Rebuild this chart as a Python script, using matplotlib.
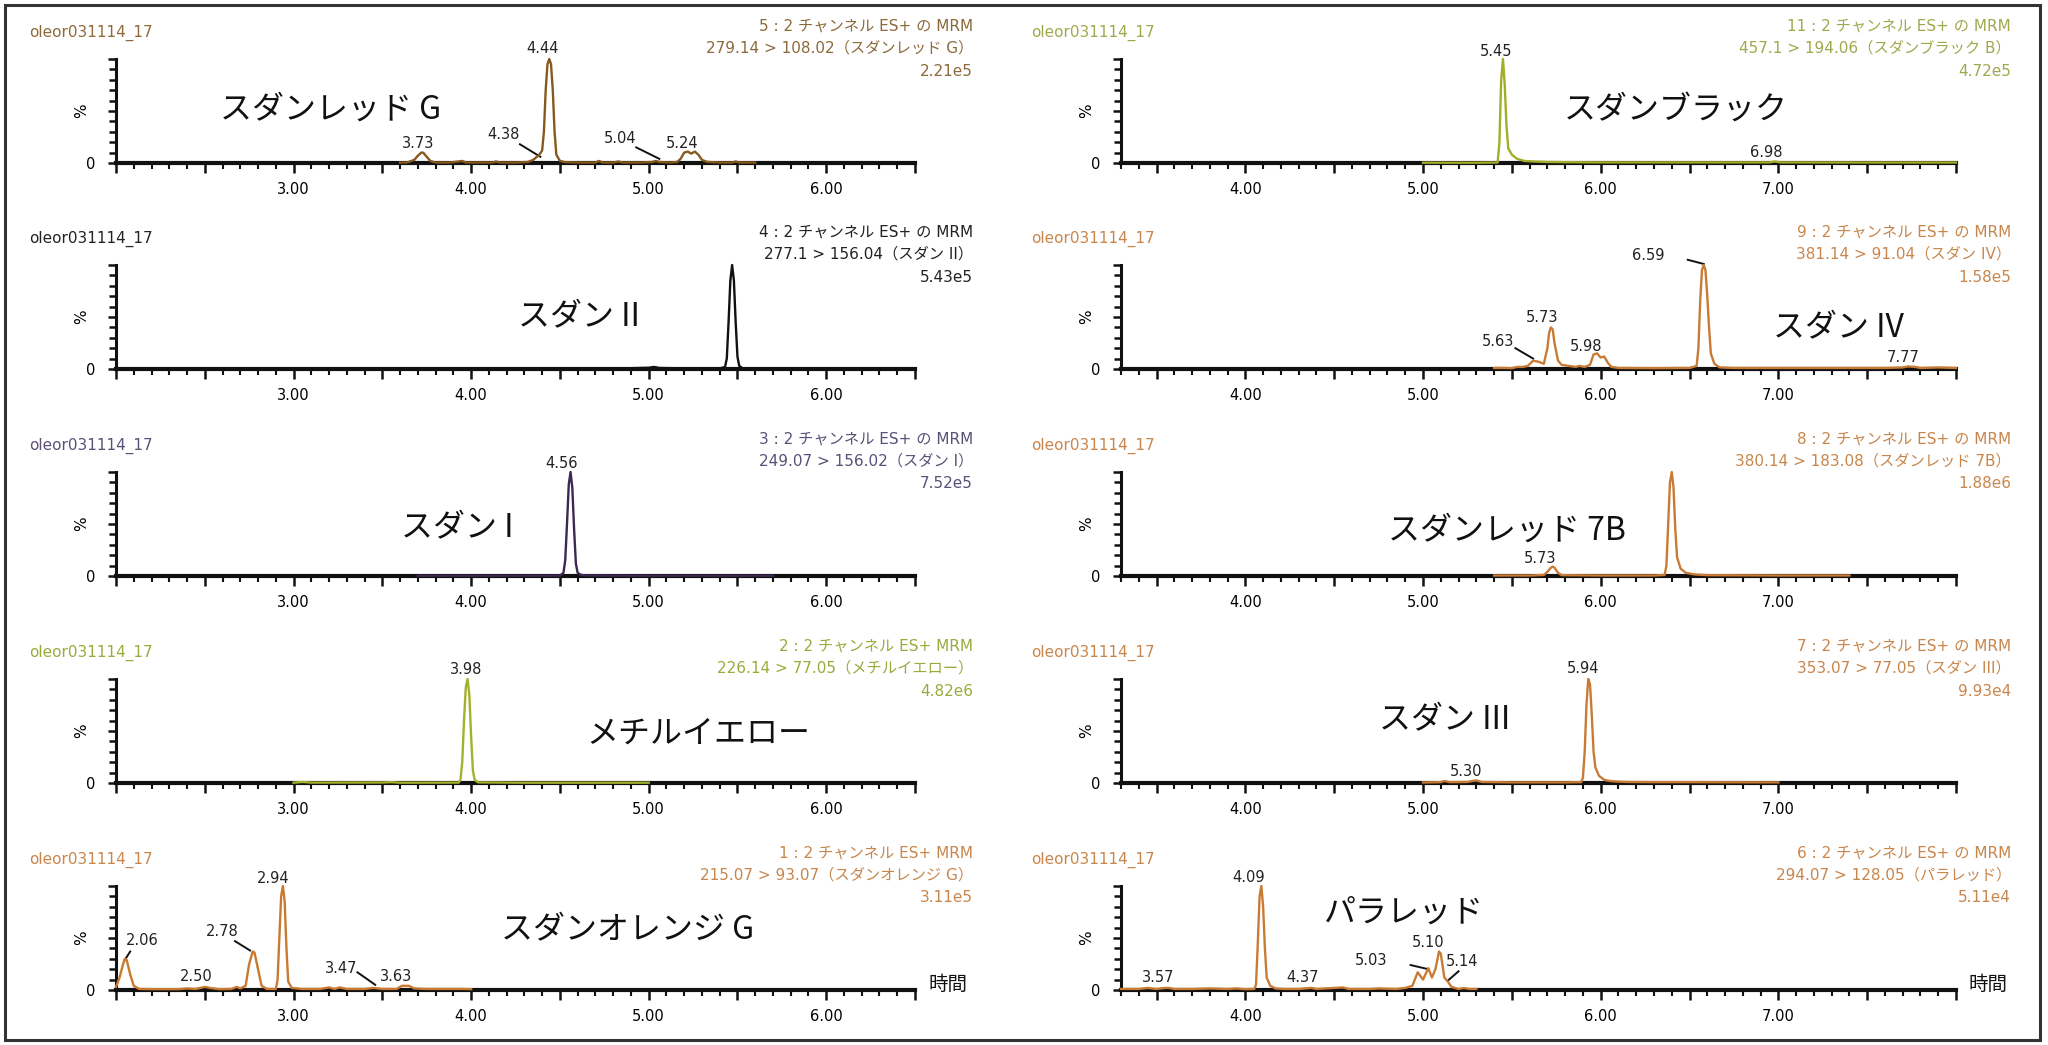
import numpy as np
import matplotlib
matplotlib.use('Agg')
import matplotlib.pyplot as plt
from matplotlib.ticker import MultipleLocator, FuncFormatter

plt.rcParams['font.family'] = ['DejaVu Sans', 'Noto Sans CJK JP']

''' DATA: chromatogram traces as (time [min], intensity [%]) '''
red_g = [(3.60, 0.5), (3.64, 0.5), (3.68, 3), (3.70, 7), (3.72, 10), (3.73, 10), (3.75, 6), (3.77, 2),
         (3.80, 0.5), (3.88, 0.5), (3.93, 1.5), (3.95, 2), (3.97, 0.5), (4.05, 0.5), (4.12, 0.5),
         (4.14, 1.5), (4.16, 0.5), (4.25, 0.5), (4.32, 1), (4.35, 3), (4.37, 6), (4.38, 7), (4.40, 12),
         (4.41, 30), (4.42, 70), (4.43, 95), (4.44, 100), (4.45, 95), (4.46, 70), (4.47, 30), (4.48, 8),
         (4.50, 2), (4.53, 0.8), (4.60, 0.5), (4.70, 0.5), (4.72, 2), (4.74, 0.5), (4.80, 0.5),
         (4.83, 1.5), (4.85, 0.5), (4.95, 0.5), (5.02, 1), (5.04, 2), (5.06, 1), (5.12, 0.5), (5.16, 1),
         (5.18, 4), (5.20, 10), (5.22, 11), (5.24, 9), (5.26, 11), (5.28, 8), (5.30, 3), (5.33, 1),
         (5.40, 0.5), (5.47, 0.5), (5.49, 1.5), (5.51, 0.5), (5.56, 0.5), (5.60, 0.5)]
sudan_ii = [(4.50, 0.3), (4.70, 0.5), (4.90, 0.8), (5.00, 1.2), (5.03, 2), (5.06, 1), (5.20, 0.6),
            (5.40, 0.5), (5.43, 2), (5.44, 10), (5.45, 45), (5.46, 85), (5.47, 100), (5.48, 85),
            (5.49, 45), (5.50, 12), (5.51, 3), (5.53, 0.5), (5.70, 0.3), (6.00, 0.3), (6.50, 0.3)]
sudan_i = [(3.70, 0.3), (4.00, 0.3), (4.30, 0.3), (4.50, 0.4), (4.52, 3), (4.53, 15), (4.54, 50),
           (4.55, 88), (4.56, 100), (4.57, 85), (4.58, 45), (4.59, 12), (4.60, 3), (4.62, 1),
           (4.66, 0.5), (5.00, 0.3), (5.70, 0.3)]
methyl_yellow = [(3.00, 0.3), (3.05, 1), (3.10, 0.4), (3.50, 0.5), (3.55, 0.8), (3.60, 0.3),
                 (3.93, 0.4), (3.94, 3), (3.95, 20), (3.96, 60), (3.97, 92), (3.98, 100), (3.99, 85),
                 (4.00, 45), (4.01, 12), (4.02, 3), (4.04, 0.6), (4.30, 0.3), (5.00, 0.3)]
orange_g = [(2.00, 3), (2.02, 12), (2.04, 25), (2.05, 30), (2.06, 29), (2.08, 15), (2.10, 4),
            (2.13, 1), (2.20, 0.8), (2.35, 0.8), (2.40, 1.5), (2.45, 1), (2.50, 3), (2.53, 2),
            (2.58, 0.8), (2.65, 1), (2.68, 3), (2.70, 1.5), (2.73, 4), (2.75, 25), (2.77, 37),
            (2.78, 36), (2.80, 20), (2.82, 4), (2.85, 1), (2.90, 1), (2.91, 10), (2.92, 50),
            (2.93, 90), (2.94, 100), (2.95, 85), (2.96, 40), (2.97, 8), (2.99, 2), (3.05, 1),
            (3.15, 1), (3.20, 2.5), (3.23, 1), (3.26, 2.5), (3.30, 1), (3.40, 1), (3.45, 2), (3.50, 1),
            (3.58, 1), (3.61, 4), (3.65, 4), (3.68, 1.5), (3.75, 1), (3.85, 1), (3.95, 1), (4.00, 0.8)]
black_b = [(5.00, 0.3), (5.30, 0.3), (5.42, 0.5), (5.43, 20), (5.44, 80), (5.45, 100), (5.46, 75),
           (5.47, 35), (5.48, 14), (5.50, 8), (5.53, 4), (5.57, 2), (5.62, 1.5), (5.70, 1),
           (5.80, 0.8), (6.00, 0.6), (6.50, 0.6), (6.95, 0.6), (6.98, 1.5), (7.01, 0.6), (7.50, 0.5),
           (8.00, 0.5)]
sudan_iv = [(5.40, 1), (5.45, 1), (5.50, 0.8), (5.53, 2), (5.56, 2), (5.59, 3), (5.62, 8), (5.65, 7),
            (5.68, 5), (5.70, 20), (5.71, 35), (5.72, 40), (5.73, 38), (5.74, 25), (5.76, 8),
            (5.78, 4), (5.82, 3), (5.86, 2), (5.88, 3), (5.91, 2), (5.94, 4), (5.96, 14), (5.98, 15),
            (6.00, 11), (6.02, 12), (6.04, 6), (6.06, 2), (6.10, 1), (6.30, 0.8), (6.50, 1),
            (6.54, 3), (6.55, 20), (6.56, 65), (6.57, 95), (6.58, 100), (6.59, 95), (6.60, 70),
            (6.61, 40), (6.62, 15), (6.64, 5), (6.67, 1.5), (6.75, 1), (7.00, 1), (7.30, 1),
            (7.60, 1), (7.70, 1.5), (7.73, 2.5), (7.77, 2), (7.80, 1), (7.90, 1.5), (8.00, 1)]
red_7b = [(5.40, 0.5), (5.60, 0.5), (5.68, 1), (5.70, 4), (5.72, 8), (5.73, 9), (5.74, 8), (5.76, 3),
          (5.78, 0.8), (6.00, 0.5), (6.30, 0.5), (6.36, 1), (6.37, 10), (6.38, 50), (6.39, 90),
          (6.40, 100), (6.41, 85), (6.42, 45), (6.43, 18), (6.45, 7), (6.48, 3), (6.53, 1.5),
          (6.60, 0.8), (7.00, 0.5), (7.40, 0.5)]
sudan_iii = [(5.00, 0.5), (5.10, 0.8), (5.12, 2), (5.15, 0.8), (5.25, 1), (5.28, 2), (5.30, 2.5),
             (5.33, 1), (5.50, 0.6), (5.80, 0.6), (5.89, 0.8), (5.90, 5), (5.91, 30), (5.92, 75),
             (5.93, 100), (5.94, 95), (5.95, 65), (5.96, 30), (5.97, 15), (5.99, 7), (6.02, 3),
             (6.05, 2), (6.08, 1.5), (6.15, 1), (6.30, 0.8), (6.50, 0.8), (7.00, 0.6)]
para_red = [(3.30, 1), (3.40, 1), (3.45, 2), (3.50, 1), (3.55, 2), (3.57, 2), (3.60, 1), (3.70, 1),
            (3.80, 1.5), (3.90, 1), (3.95, 1.5), (4.00, 0.8), (4.05, 1), (4.06, 5), (4.07, 45),
            (4.08, 90), (4.09, 100), (4.10, 80), (4.11, 40), (4.12, 12), (4.14, 4), (4.17, 1.5),
            (4.22, 1), (4.30, 1), (4.37, 2), (4.40, 1), (4.55, 2.5), (4.58, 1), (4.70, 1), (4.75, 1.5),
            (4.85, 1), (4.90, 2), (4.94, 4), (4.97, 17), (5.00, 10), (5.03, 21), (5.05, 12),
            (5.07, 20), (5.09, 37), (5.10, 35), (5.12, 12), (5.14, 8), (5.16, 3), (5.20, 1),
            (5.23, 2), (5.26, 1), (5.30, 1)]

# peak labels: (text, time, %)   leader lines: (t1, y1, t2, y2)
red_g_peaks = [('3.73', 3.70, 19), ('4.38', 4.18, 27), ('4.44', 4.40, 110), ('5.04', 4.84, 24), ('5.24', 5.19, 19)]
red_g_lead = [(4.275, 18, 4.39, 6), (4.93, 15, 5.06, 4)]
sudan_i_peaks = [('4.56', 4.51, 108)]
methyl_yellow_peaks = [('3.98', 3.97, 109)]
orange_g_peaks = [('2.06', 2.15, 48), ('2.50', 2.45, 13), ('2.78', 2.60, 56), ('2.94', 2.885, 107),
                  ('3.47', 3.27, 21), ('3.63', 3.58, 13)]
orange_g_lead = [(2.08, 37, 2.05, 29), (2.67, 47, 2.755, 38), (3.36, 17, 3.46, 5)]
black_b_peaks = [('5.45', 5.41, 107), ('6.98', 6.93, 10)]
sudan_iv_peaks = [('5.63', 5.42, 26), ('5.73', 5.67, 50), ('5.98', 5.92, 22), ('6.59', 6.27, 109), ('7.77', 7.70, 11)]
sudan_iv_lead = [(5.52, 20, 5.62, 10), (6.49, 105, 6.58, 101)]
red_7b_peaks = [('5.73', 5.66, 17)]
sudan_iii_peaks = [('5.30', 5.24, 11), ('5.94', 5.90, 110)]
para_red_peaks = [('3.57', 3.51, 12), ('4.09', 4.02, 108), ('4.37', 4.32, 12), ('5.03', 4.71, 28),
                  ('5.10', 5.03, 46), ('5.14', 5.22, 27)]
para_red_lead = [(4.93, 24, 5.03, 20), (5.20, 18, 5.14, 9)]

sample = 'oleor031114_17'

# (row, col, trace, peaks, leaders, header lines, big name, name pos, trace color, text color)
panels = [
    (0, 0, red_g, red_g_peaks, red_g_lead,
     ['5 : 2 チャンネル ES+ の MRM', '279.14 > 108.02（スダンレッド G）', '2.21e5'],
     'スダンレッド G', (3.21, 51), '#86591f', '#8c6a3a'),
    (1, 0, sudan_ii, [], [],
     ['4 : 2 チャンネル ES+ の MRM', '277.1 > 156.04（スダン II）', '5.43e5'],
     'スダン II', (4.61, 50), '#111111', '#222222'),
    (2, 0, sudan_i, sudan_i_peaks, [],
     ['3 : 2 チャンネル ES+ の MRM', '249.07 > 156.02（スダン I）', '7.52e5'],
     'スダン I', (3.92, 46), '#3d2852', '#5b5078'),
    (3, 0, methyl_yellow, methyl_yellow_peaks, [],
     ['2 : 2 チャンネル ES+ MRM', '226.14 > 77.05（メチルイエロー）', '4.82e6'],
     'メチルイエロー', (5.28, 47), '#a3b22e', '#9aab3c'),
    (4, 0, orange_g, orange_g_peaks, orange_g_lead,
     ['1 : 2 チャンネル ES+ MRM', '215.07 > 93.07（スダンオレンジ G）', '3.11e5'],
     'スダンオレンジ G', (4.88, 57), '#c97a30', '#c8864c'),
    (0, 1, black_b, black_b_peaks, [],
     ['11 : 2 チャンネル ES+ の MRM', '457.1 > 194.06（スダンブラック B）', '4.72e5'],
     'スダンブラック', (6.42, 51), '#a2ae2a', '#a0a84c'),
    (1, 1, sudan_iv, sudan_iv_peaks, sudan_iv_lead,
     ['9 : 2 チャンネル ES+ の MRM', '381.14 > 91.04（スダン IV）', '1.58e5'],
     'スダン IV', (7.34, 39), '#c97b35', '#c8864c'),
    (2, 1, red_7b, red_7b_peaks, [],
     ['8 : 2 チャンネル ES+ の MRM', '380.14 > 183.08（スダンレッド 7B）', '1.88e6'],
     'スダンレッド 7B', (5.47, 44), '#c97b35', '#c8864c'),
    (3, 1, sudan_iii, sudan_iii_peaks, [],
     ['7 : 2 チャンネル ES+ の MRM', '353.07 > 77.05（スダン III）', '9.93e4'],
     'スダン III', (5.12, 60), '#c97b35', '#c8864c'),
    (4, 1, para_red, para_red_peaks, para_red_lead,
     ['6 : 2 チャンネル ES+ の MRM', '294.07 > 128.05（パラレッド）', '5.11e4'],
     'パラレッド', (4.89, 74), '#c97b35', '#c8864c'),
]

''' LAYOUT (pixels) '''
W, H = 2048, 1045
baselines = [163, 369, 576, 783, 990]
col_x0 = [116, 1121]
col_w = [799, 835]
col_xlim = [(2.0, 6.5), (3.3, 8.0)]
col_left_text = [29, 1031]
col_right_text = [973, 2011]
ax_h = 104


def fx(px):
    return px / W


def fy(py):
    return 1 - py / H


def make_fmt(lo, hi):
    # labels only on whole minutes, not at the axis ends
    def f(v, p):
        if abs(v - round(v)) > 1e-6 or abs(v - lo) < 1e-6 or abs(v - hi) < 1e-6:
            return ''
        return f'{v:.2f}'
    return FuncFormatter(f)


fig = plt.figure(figsize=(W / 100, H / 100), dpi=100)
fig.add_artist(plt.Rectangle((fx(5), fy(1040)), fx(2035), 1035 / H, transform=fig.transFigure,
                             fill=False, lw=2.2, ec='#333333'))

for row, col, trace, peaks, leads, header, name, name_pos, c_line, c_text in panels:
    base = baselines[row]
    ax = fig.add_axes([fx(col_x0[col]), fy(base), fx(col_w[col]), ax_h / H])
    ax.set_xlim(*col_xlim[col])
    ax.set_ylim(0, 100)
    ax.patch.set_alpha(0)
    for s in ['top', 'right']:
        ax.spines[s].set_visible(False)
    ax.spines['left'].set_linewidth(2.2)
    ax.spines['bottom'].set_linewidth(3)
    ax.spines['left'].set_color('#111111')
    ax.spines['bottom'].set_color('#111111')

    ax.xaxis.set_major_locator(MultipleLocator(0.5))
    ax.xaxis.set_minor_locator(MultipleLocator(0.1))
    ax.xaxis.set_major_formatter(make_fmt(*col_xlim[col]))
    ax.tick_params(axis='x', which='major', length=7, width=1.8, labelsize=10.5, pad=7, color='#111111')
    ax.tick_params(axis='x', which='minor', length=4, width=1.5, color='#111111')
    ax.set_yticks([0, 50, 100])
    ax.set_yticklabels(['0', '', ''])
    ax.yaxis.set_minor_locator(MultipleLocator(10))
    ax.tick_params(axis='y', which='major', length=6, width=1.8, labelsize=10.5, pad=9, color='#111111')
    ax.tick_params(axis='y', which='minor', length=5, width=1.8, color='#111111')
    ax.text(-34 / col_w[col], 0.5, '%', transform=ax.transAxes, rotation=90,
            ha='center', va='center', fontsize=11)

    t, y = np.array(trace).T
    ax.plot(t, y, color=c_line, lw=1.7, clip_on=False, zorder=4, solid_joinstyle='round')

    for lab, lx, ly in peaks:
        ax.text(lx, ly, lab, ha='center', va='center', fontsize=10.5, color='#222222', clip_on=False)
    for x1, y1, x2, y2 in leads:
        ax.plot([x1, x2], [y1, y2], color='#111111', lw=1.4, clip_on=False)

    ax.text(name_pos[0], name_pos[1], name, ha='center', va='center', fontsize=23,
            family=['Noto Sans CJK JP'], color='#111111')

    # header texts
    fig.text(fx(col_left_text[col]), fy(base - 130), sample, ha='left', va='center',
             fontsize=11, color=c_text)
    for k, line in enumerate(header):
        fig.text(fx(col_right_text[col]), fy(base - 137 + 22.5 * k), line, ha='right', va='center',
                 fontsize=11, color=c_text)

    if row == 4:
        fig.text(fx(col_x0[col] + col_w[col] + 13), fy(base - 6), '時間', ha='left', va='center',
                 fontsize=14, color='#111111')

plt.savefig('out.png', dpi=100)
